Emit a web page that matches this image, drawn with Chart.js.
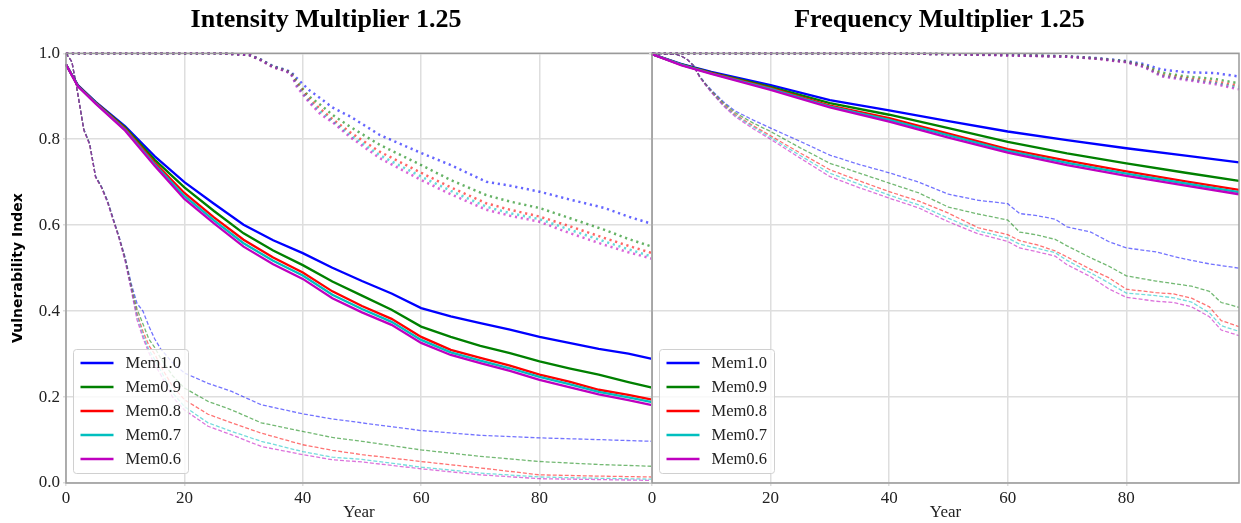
<!DOCTYPE html>
<html>
<head>
<meta charset="utf-8">
<title>Vulnerability Index</title>
<script src="https://cdn.jsdelivr.net/npm/chart.js@4.4.0/dist/chart.umd.min.js"></script>
<style>
  html, body { margin: 0; padding: 0; background: #fff; }
  #wrap { position: relative; width: 1241px; height: 523px; overflow: hidden; }
  canvas { position: absolute; top: 0; }
  #intensityChart { left: 0; }
  #frequencyChart { left: 640px; }
</style>
</head>
<body>
<div id="wrap">
  <canvas id="intensityChart" width="660" height="523"></canvas>
  <canvas id="frequencyChart" width="601" height="523"></canvas>
</div>
<script>
// ===== SERIES =====
const memLabels = ["Mem1.0", "Mem0.9", "Mem0.8", "Mem0.7", "Mem0.6"];
const yTicks = [0, 0.2, 0.4, 0.6, 0.8, 1.0];

// Intensity multiplier 1.25 - mean, upper and lower curves (rows follow memLabels)
const intensityYearsMean = [0, 2, 5, 10, 15, 20, 25, 30, 35, 40, 45, 50, 55, 60, 65, 70, 75, 80, 85, 90, 95, 99];
const intensityMean = [
    [0.974, 0.926, 0.887, 0.830, 0.760, 0.700, 0.650, 0.601, 0.565, 0.535, 0.501, 0.470, 0.441, 0.407, 0.388, 0.372, 0.357, 0.340, 0.326, 0.312, 0.301, 0.289],
    [0.974, 0.925, 0.886, 0.827, 0.752, 0.688, 0.633, 0.581, 0.541, 0.507, 0.469, 0.436, 0.403, 0.364, 0.340, 0.319, 0.302, 0.283, 0.267, 0.252, 0.235, 0.222],
    [0.974, 0.924, 0.885, 0.824, 0.745, 0.675, 0.618, 0.566, 0.525, 0.490, 0.446, 0.412, 0.382, 0.340, 0.310, 0.291, 0.273, 0.252, 0.236, 0.217, 0.205, 0.194],
    [0.974, 0.924, 0.884, 0.822, 0.741, 0.668, 0.611, 0.558, 0.517, 0.483, 0.438, 0.405, 0.375, 0.333, 0.304, 0.285, 0.267, 0.247, 0.230, 0.212, 0.199, 0.188],
    [0.974, 0.923, 0.883, 0.820, 0.738, 0.661, 0.604, 0.550, 0.509, 0.475, 0.430, 0.397, 0.368, 0.326, 0.298, 0.279, 0.261, 0.240, 0.223, 0.206, 0.193, 0.181]
];
const intensityYearsUpper = [0, 26, 31, 33, 35, 37, 38, 39, 41, 43, 45, 48, 53, 60, 65, 71, 75, 80, 85, 91, 95, 99];
const intensityUpper = [
    [1.0, 1.0, 0.996, 0.985, 0.970, 0.962, 0.957, 0.942, 0.915, 0.895, 0.874, 0.853, 0.810, 0.768, 0.740, 0.701, 0.692, 0.678, 0.660, 0.640, 0.620, 0.603],
    [1.0, 1.0, 0.996, 0.984, 0.969, 0.961, 0.955, 0.935, 0.900, 0.880, 0.857, 0.829, 0.787, 0.740, 0.705, 0.670, 0.655, 0.640, 0.617, 0.589, 0.568, 0.550],
    [1.0, 1.0, 0.996, 0.984, 0.968, 0.960, 0.954, 0.930, 0.895, 0.870, 0.847, 0.816, 0.771, 0.722, 0.688, 0.651, 0.636, 0.620, 0.598, 0.570, 0.552, 0.535],
    [1.0, 1.0, 0.996, 0.984, 0.968, 0.960, 0.953, 0.926, 0.891, 0.864, 0.843, 0.810, 0.763, 0.713, 0.680, 0.643, 0.628, 0.614, 0.590, 0.562, 0.544, 0.527],
    [1.0, 1.0, 0.996, 0.983, 0.967, 0.959, 0.952, 0.922, 0.887, 0.858, 0.840, 0.805, 0.756, 0.705, 0.672, 0.636, 0.622, 0.608, 0.582, 0.554, 0.537, 0.522]
];
const intensityYearsLower = [0, 1, 2, 3, 4, 5, 6, 7, 8, 9, 10, 11, 12, 13, 14, 15, 16, 18, 20, 24, 28, 33, 40, 45, 50, 60, 70, 80, 90, 99];
const intensityLower = [
    [1.0, 0.98, 0.905, 0.824, 0.790, 0.714, 0.690, 0.658, 0.615, 0.572, 0.525, 0.465, 0.418, 0.400, 0.365, 0.335, 0.312, 0.280, 0.256, 0.232, 0.213, 0.182, 0.161, 0.149, 0.140, 0.122, 0.111, 0.105, 0.101, 0.097],
    [1.0, 0.98, 0.905, 0.823, 0.789, 0.713, 0.689, 0.656, 0.613, 0.570, 0.522, 0.460, 0.405, 0.370, 0.335, 0.315, 0.290, 0.250, 0.221, 0.190, 0.170, 0.140, 0.120, 0.106, 0.097, 0.077, 0.062, 0.050, 0.043, 0.039],
    [1.0, 0.98, 0.905, 0.822, 0.788, 0.712, 0.688, 0.655, 0.612, 0.569, 0.520, 0.456, 0.395, 0.353, 0.320, 0.300, 0.272, 0.225, 0.194, 0.160, 0.140, 0.116, 0.089, 0.076, 0.066, 0.050, 0.035, 0.019, 0.016, 0.014],
    [1.0, 0.98, 0.905, 0.822, 0.788, 0.712, 0.688, 0.654, 0.611, 0.568, 0.518, 0.453, 0.390, 0.345, 0.310, 0.287, 0.262, 0.210, 0.178, 0.140, 0.120, 0.097, 0.073, 0.060, 0.055, 0.037, 0.023, 0.014, 0.011, 0.009],
    [1.0, 0.98, 0.905, 0.821, 0.787, 0.711, 0.687, 0.653, 0.610, 0.567, 0.515, 0.450, 0.380, 0.338, 0.303, 0.275, 0.252, 0.200, 0.170, 0.132, 0.112, 0.085, 0.066, 0.054, 0.049, 0.033, 0.019, 0.010, 0.008, 0.006]
];

// Frequency multiplier 1.25
const frequencyYearsMean = [0, 5, 10, 20, 30, 40, 50, 60, 70, 80, 90, 99];
const frequencyMean = [
    [0.998, 0.975, 0.957, 0.926, 0.891, 0.867, 0.842, 0.818, 0.798, 0.779, 0.762, 0.746],
    [0.998, 0.974, 0.955, 0.922, 0.884, 0.857, 0.826, 0.794, 0.767, 0.744, 0.722, 0.703],
    [0.998, 0.973, 0.954, 0.919, 0.878, 0.849, 0.813, 0.777, 0.750, 0.725, 0.702, 0.682],
    [0.998, 0.973, 0.953, 0.917, 0.876, 0.845, 0.809, 0.773, 0.745, 0.720, 0.697, 0.677],
    [0.998, 0.972, 0.952, 0.915, 0.874, 0.841, 0.804, 0.769, 0.740, 0.715, 0.692, 0.672]
];
const frequencyYearsUpper = [0, 40, 50, 60, 70, 75, 80, 83, 86, 90, 95, 99];
const frequencyUpper = [
    [1.0, 1.0, 0.998, 0.996, 0.993, 0.989, 0.982, 0.975, 0.962, 0.956, 0.954, 0.946],
    [1.0, 1.0, 0.998, 0.996, 0.993, 0.988, 0.981, 0.972, 0.955, 0.946, 0.940, 0.930],
    [1.0, 1.0, 0.998, 0.996, 0.992, 0.988, 0.980, 0.970, 0.950, 0.942, 0.934, 0.924],
    [1.0, 1.0, 0.998, 0.996, 0.992, 0.988, 0.980, 0.969, 0.948, 0.940, 0.931, 0.920],
    [1.0, 1.0, 0.998, 0.995, 0.992, 0.987, 0.979, 0.968, 0.946, 0.938, 0.928, 0.916]
];
const frequencyYearsLower = [0, 4, 5, 6, 7, 8, 9, 10, 12, 14, 17, 20, 25, 30, 35, 40, 45, 50, 55, 60, 62, 65, 68, 70, 74, 77, 80, 85, 88, 91, 94, 96, 99];
const frequencyLower = [
    [1.0, 0.998, 0.993, 0.985, 0.972, 0.948, 0.930, 0.915, 0.888, 0.866, 0.845, 0.826, 0.795, 0.763, 0.741, 0.722, 0.700, 0.672, 0.658, 0.650, 0.627, 0.622, 0.614, 0.596, 0.584, 0.562, 0.547, 0.538, 0.527, 0.518, 0.510, 0.506, 0.500],
    [1.0, 0.998, 0.993, 0.985, 0.972, 0.947, 0.929, 0.913, 0.885, 0.862, 0.838, 0.818, 0.780, 0.744, 0.721, 0.698, 0.675, 0.642, 0.626, 0.612, 0.584, 0.577, 0.567, 0.552, 0.524, 0.505, 0.482, 0.470, 0.464, 0.458, 0.446, 0.420, 0.409],
    [1.0, 0.998, 0.993, 0.985, 0.971, 0.946, 0.928, 0.911, 0.882, 0.858, 0.832, 0.808, 0.768, 0.729, 0.703, 0.678, 0.656, 0.628, 0.594, 0.578, 0.564, 0.554, 0.540, 0.526, 0.497, 0.478, 0.451, 0.443, 0.440, 0.430, 0.410, 0.378, 0.364],
    [1.0, 0.998, 0.993, 0.985, 0.971, 0.946, 0.927, 0.910, 0.880, 0.856, 0.829, 0.804, 0.762, 0.721, 0.695, 0.670, 0.647, 0.616, 0.587, 0.570, 0.556, 0.546, 0.536, 0.518, 0.489, 0.466, 0.442, 0.436, 0.431, 0.421, 0.396, 0.366, 0.353],
    [1.0, 0.998, 0.993, 0.985, 0.970, 0.945, 0.926, 0.909, 0.878, 0.853, 0.825, 0.800, 0.756, 0.713, 0.687, 0.663, 0.640, 0.608, 0.580, 0.562, 0.547, 0.538, 0.528, 0.508, 0.480, 0.452, 0.432, 0.423, 0.420, 0.410, 0.387, 0.356, 0.343]
];

// ===== STYLE =====
const memColors = ["0,0,255", "0,128,0", "255,0,0", "0,191,191", "191,0,191"];
const SERIF = "'Liberation Serif', 'Times New Roman', serif";
const TEXT = "#222";

function toPoints(years, values) {
    return years.map((x, i) => ({ x: x, y: values[i] }));
}

function buildDatasets(yearsMean, mean, yearsUpper, upper, yearsLower, lower) {
    const sets = [];
    memLabels.forEach((label, i) => {
        const c = memColors[i];
        // later Mem rows sit on top, solid curves above the bands
        sets.push({
            label: label,
            data: toPoints(yearsMean, mean[i]),
            borderColor: `rgb(${c})`,
            borderWidth: 2.3,
            order: 4 - i
        });
        sets.push({
            label: label + " upper",
            data: toPoints(yearsUpper, upper[i]),
            borderColor: `rgba(${c},0.6)`,
            borderWidth: 2.5,
            borderDash: [2.2, 3.7],
            order: 20 - i
        });
        sets.push({
            label: label + " lower",
            data: toPoints(yearsLower, lower[i]),
            borderColor: `rgba(${c},0.55)`,
            borderWidth: 1.3,
            borderDash: [4, 2],
            order: 30 - i
        });
    });
    return sets;
}

// ===== FRAME + LEGEND =====
const frameAndLegend = {
    id: "frameAndLegend",
    afterDatasetsDraw(chart) {
        const { ctx, chartArea: a } = chart;
        ctx.save();
        ctx.strokeStyle = "#9a9a9a";
        ctx.lineWidth = 1.5;
        ctx.strokeRect(a.left, a.top, a.right - a.left, a.bottom - a.top);

        const bw = 115, bh = 124;
        const bx = a.left + 7.5, by = a.bottom - 9.5 - bh;
        ctx.beginPath();
        if (ctx.roundRect) ctx.roundRect(bx, by, bw, bh, 3);
        else ctx.rect(bx, by, bw, bh);
        ctx.fillStyle = "rgba(255,255,255,0.8)";
        ctx.fill();
        ctx.strokeStyle = "#d0d0d0";
        ctx.lineWidth = 1;
        ctx.stroke();

        ctx.font = "16.5px " + SERIF;
        ctx.textBaseline = "middle";
        memLabels.forEach((label, i) => {
            const y = by + 13.5 + i * 24;
            ctx.beginPath();
            ctx.moveTo(bx + 7, y);
            ctx.lineTo(bx + 40, y);
            ctx.strokeStyle = `rgb(${memColors[i]})`;
            ctx.lineWidth = 2.3;
            ctx.stroke();
            ctx.fillStyle = TEXT;
            ctx.fillText(label, bx + 52, y + 1);
        });
        ctx.restore();
    }
};

// ===== CHART =====
function makeChart(id, title, datasets, showY, padRight) {
    return new Chart(document.getElementById(id), {
        type: "line",
        data: { datasets: datasets },
        options: {
            responsive: false,
            animation: false,
            layout: { padding: { left: 0, right: padRight, top: 0, bottom: 0 } },
            elements: {
                point: { radius: 0 },
                line: { tension: 0, fill: false }
            },
            datasets: { line: { clip: 3 } },
            plugins: {
                legend: { display: false },
                tooltip: { enabled: false },
                title: {
                    display: true,
                    text: title,
                    color: "#000",
                    font: { family: SERIF, size: 26, weight: "bold" },
                    padding: { top: 5, bottom: 17.1 }
                }
            },
            scales: {
                x: {
                    type: "linear",
                    min: 0,
                    max: 99,
                    afterFit(scale) { scale.height = 40; },
                    ticks: {
                        stepSize: 20,
                        includeBounds: false,
                        color: TEXT,
                        padding: 2,
                        maxRotation: 0,
                        font: { family: SERIF, size: 17 }
                    },
                    grid: { color: "#dedede", lineWidth: 1.5, tickLength: 3 },
                    border: { display: false },
                    title: {
                        display: true,
                        text: "Year",
                        color: TEXT,
                        font: { family: SERIF, size: 17 },
                        padding: { top: 0, bottom: 0 }
                    }
                },
                y: {
                    min: 0,
                    max: 1,
                    afterFit(scale) { scale.width = showY ? 66 : 12; },
                    afterBuildTicks(scale) { scale.ticks = yTicks.map(v => ({ value: v })); },
                    ticks: {
                        display: showY,
                        color: TEXT,
                        padding: 3,
                        font: { family: SERIF, size: 17 },
                        callback: v => v.toFixed(1)
                    },
                    grid: { color: "#dedede", lineWidth: 1.5, tickLength: 3 },
                    border: { display: false },
                    title: {
                        display: showY,
                        text: "Vulnerability Index",
                        color: "#000",
                        font: { family: "'DejaVu Sans', sans-serif", size: 14, weight: "bold" },
                        padding: { top: 10, bottom: 0 }
                    }
                }
            }
        },
        plugins: [frameAndLegend]
    });
}

document.addEventListener("DOMContentLoaded", () => {
    makeChart("intensityChart", "Intensity Multiplier 1.25",
        buildDatasets(intensityYearsMean, intensityMean, intensityYearsUpper, intensityUpper,
            intensityYearsLower, intensityLower), true, 8);
    makeChart("frequencyChart", "Frequency Multiplier 1.25",
        buildDatasets(frequencyYearsMean, frequencyMean, frequencyYearsUpper, frequencyUpper,
            frequencyYearsLower, frequencyLower), false, 2);
});
</script>
</body>
</html>
